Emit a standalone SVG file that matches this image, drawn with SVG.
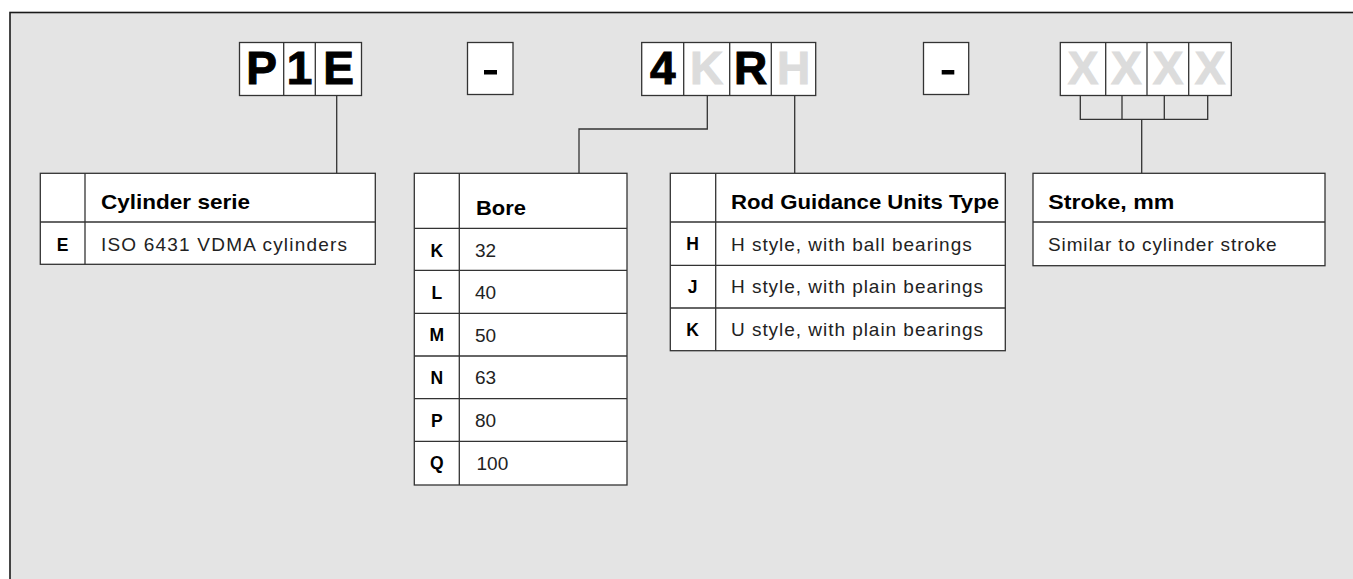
<svg xmlns="http://www.w3.org/2000/svg" width="1353" height="579" viewBox="0 0 1353 579">
<style>
.panel{fill:#e4e4e4;stroke:#1a1a1a;stroke-width:1.6}
.box{fill:#fff;stroke:#333;stroke-width:1.3}
.ln{fill:none;stroke:#333;stroke-width:1.3}
.big{font-family:"Liberation Sans",Arial,sans-serif;font-weight:bold;font-size:46px;text-anchor:middle;fill:#000;stroke:#000;stroke-width:1}
.ghost{fill:#dcdcdc;stroke:#dcdcdc}
.hd{font-family:"Liberation Sans",Arial,sans-serif;font-weight:bold;font-size:21px;fill:#000}
.key{font-family:"Liberation Sans",Arial,sans-serif;font-weight:bold;font-size:17.5px;text-anchor:middle;fill:#000}
.tx{font-family:"Liberation Sans",Arial,sans-serif;font-size:19px;fill:#222}
</style>
<rect class="panel" x="10" y="12.5" width="1360" height="600"/>

<g id="code-P1E">
<rect class="box" x="239.5" y="42.5" width="122" height="53"/>
<line class="ln" x1="283.7" y1="42.5" x2="283.7" y2="95.5"/>
<line class="ln" x1="315.3" y1="42.5" x2="315.3" y2="95.5"/>
<text class="big" x="261.5" y="84">P</text>
<text class="big" x="299.5" y="84">1</text>
<text class="big" x="338.5" y="84">E</text>
</g>

<g id="dash-1">
<rect class="box" x="467.5" y="42.5" width="45.5" height="52"/>
<rect x="484" y="70" width="13" height="4.5" fill="#000"/>
</g>

<g id="code-4KRH">
<rect class="box" x="641.7" y="42.5" width="174" height="53"/>
<line class="ln" x1="683.7" y1="42.5" x2="683.7" y2="95.5"/>
<line class="ln" x1="729.7" y1="42.5" x2="729.7" y2="95.5"/>
<line class="ln" x1="771.3" y1="42.5" x2="771.3" y2="95.5"/>
<text class="big" x="662.7" y="84">4</text>
<text class="big ghost" x="706.7" y="84">K</text>
<text class="big" x="750.5" y="84">R</text>
<text class="big ghost" x="793.5" y="84">H</text>
</g>

<g id="dash-2">
<rect class="box" x="923.5" y="42.5" width="45.2" height="52"/>
<rect x="941.7" y="70" width="12.6" height="4.5" fill="#000"/>
</g>

<g id="code-XXXX">
<rect class="box" x="1060.3" y="42.5" width="171" height="53"/>
<line class="ln" x1="1105.7" y1="42.5" x2="1105.7" y2="95.5"/>
<line class="ln" x1="1147" y1="42.5" x2="1147" y2="95.5"/>
<line class="ln" x1="1188.7" y1="42.5" x2="1188.7" y2="95.5"/>
<text class="big ghost" x="1083" y="84">X</text>
<text class="big ghost" x="1126.3" y="84">X</text>
<text class="big ghost" x="1168" y="84">X</text>
<text class="big ghost" x="1210" y="84">X</text>
</g>

<g id="connectors">
<line class="ln" x1="336.7" y1="95.5" x2="336.7" y2="173.3"/>
<polyline class="ln" points="707.3,95.5 707.3,129 579,129 579,173.3"/>
<line class="ln" x1="794.7" y1="95.5" x2="794.7" y2="173.3"/>
<polyline class="ln" points="1080.3,95.5 1080.3,119.3 1207.7,119.3 1207.7,95.5"/>
<line class="ln" x1="1122" y1="95.5" x2="1122" y2="119.3"/>
<line class="ln" x1="1164.3" y1="95.5" x2="1164.3" y2="119.3"/>
<line class="ln" x1="1141.7" y1="119.3" x2="1141.7" y2="173.3"/>
</g>

<g id="table-cylinder-serie">
<rect class="box" x="40.3" y="173.3" width="335" height="91"/>
<line class="ln" x1="85" y1="173.3" x2="85" y2="264.3"/>
<line class="ln" x1="40.3" y1="222" x2="375.3" y2="222"/>
<text class="hd" x="101" y="208.5" textLength="149" lengthAdjust="spacingAndGlyphs">Cylinder serie</text>
<text class="key" x="62.5" y="250.5">E</text>
<text class="tx" x="101" y="251" textLength="246" lengthAdjust="spacing">ISO 6431 VDMA cylinders</text>
</g>

<g id="table-bore">
<rect class="box" x="414.3" y="173.3" width="212.7" height="311.7"/>
<line class="ln" x1="459.3" y1="173.3" x2="459.3" y2="485"/>
<line class="ln" x1="414.3" y1="228.3" x2="627" y2="228.3"/>
<line class="ln" x1="414.3" y1="270.3" x2="627" y2="270.3"/>
<line class="ln" x1="414.3" y1="313.3" x2="627" y2="313.3"/>
<line class="ln" x1="414.3" y1="356" x2="627" y2="356"/>
<line class="ln" x1="414.3" y1="398.7" x2="627" y2="398.7"/>
<line class="ln" x1="414.3" y1="441.3" x2="627" y2="441.3"/>
<text class="hd" x="476" y="215" textLength="50" lengthAdjust="spacingAndGlyphs">Bore</text>
<text class="key" x="436.8" y="256.5">K</text>
<text class="tx" x="475" y="257">32</text>
<text class="key" x="436.8" y="298.5">L</text>
<text class="tx" x="475" y="299">40</text>
<text class="key" x="436.8" y="341">M</text>
<text class="tx" x="475" y="341.5">50</text>
<text class="key" x="436.8" y="383.7">N</text>
<text class="tx" x="475" y="384.2">63</text>
<text class="key" x="436.8" y="426.5">P</text>
<text class="tx" x="475" y="427">80</text>
<text class="key" x="436.8" y="469.3">Q</text>
<text class="tx" x="476.5" y="469.8">100</text>
</g>

<g id="table-rod-guidance">
<rect class="box" x="670.3" y="173.3" width="335" height="177.4"/>
<line class="ln" x1="715.7" y1="173.3" x2="715.7" y2="350.7"/>
<line class="ln" x1="670.3" y1="222" x2="1005.3" y2="222"/>
<line class="ln" x1="670.3" y1="265.3" x2="1005.3" y2="265.3"/>
<line class="ln" x1="670.3" y1="308" x2="1005.3" y2="308"/>
<text class="hd" x="731" y="208.5" textLength="268" lengthAdjust="spacingAndGlyphs">Rod Guidance Units Type</text>
<text class="key" x="692.5" y="250">H</text>
<text class="tx" x="731" y="250.5" textLength="240.7" lengthAdjust="spacing">H style, with ball bearings</text>
<text class="key" x="692.5" y="292.7">J</text>
<text class="tx" x="731" y="293.2" textLength="252" lengthAdjust="spacing">H style, with plain bearings</text>
<text class="key" x="692.5" y="335.5">K</text>
<text class="tx" x="731" y="336" textLength="252" lengthAdjust="spacing">U style, with plain bearings</text>
</g>

<g id="table-stroke">
<rect class="box" x="1033" y="173.3" width="292" height="92.4"/>
<line class="ln" x1="1033" y1="222" x2="1325" y2="222"/>
<text class="hd" x="1048.3" y="208.5" textLength="126" lengthAdjust="spacingAndGlyphs">Stroke, mm</text>
<text class="tx" x="1048" y="250.5" textLength="228.7" lengthAdjust="spacing">Similar to cylinder stroke</text>
</g>
</svg>
